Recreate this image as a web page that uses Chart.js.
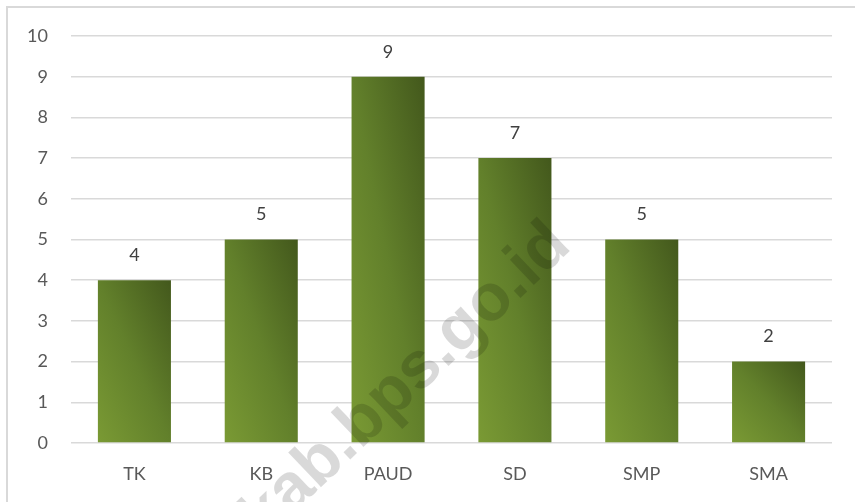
<!DOCTYPE html>
<html lang="id">
<head>
<meta charset="UTF-8">
<title>Chart</title>
<script src="https://cdn.jsdelivr.net/npm/chart.js@4.4.1/dist/chart.umd.min.js"></script>
<style>
  * { margin: 0; padding: 0; box-sizing: border-box; }
  html, body { width: 855px; height: 502px; background: #fff; overflow: hidden; }
  #wrap { position: relative; width: 855px; height: 502px; }
</style>
</head>
<body>
<div id="wrap"><canvas id="chart"></canvas></div>
<script>
const categories = ['TK', 'KB', 'PAUD', 'SD', 'SMP', 'SMA'];
const values = [4, 5, 9, 7, 5, 2];
const yMin = 0, yMax = 10, yStep = 1;
const watermark = 'kab.bps.go.id';

const FONT = 'Lato, "Open Sans", sans-serif';
const BAR_PCT = 0.576;

// diagonal gradient per bar, scaled with the bar shape (like Excel)
function barGradient(c) {
  const chart = c.chart;
  const xs = chart.scales.x, ys = chart.scales.y;
  if (!chart.chartArea || !xs || !ys || c.type !== 'data') return '#62802b';
  const x = xs.getPixelForValue(c.dataIndex);
  const w = (xs.width / categories.length) * BAR_PCT;
  const B = ys.getPixelForValue(0);
  const T = ys.getPixelForValue(values[c.dataIndex]);
  const h = Math.max(1, B - T);
  const L = x - w / 2;
  const a = 1 / (2 * w), b = 1 / (2 * h);
  const d = a * a + b * b;
  const g = chart.ctx.createLinearGradient(L, B, L + a / d, B - b / d);
  g.addColorStop(0, '#7a9a34');
  g.addColorStop(0.5, '#62802b');
  g.addColorStop(1, '#43581c');
  return g;
}

const valueLabels = {
  id: 'valueLabels',
  afterDatasetsDraw(chart) {
    const ctx = chart.ctx;
    ctx.save();
    ctx.font = '18px ' + FONT;
    ctx.fillStyle = '#404040';
    ctx.textAlign = 'center';
    ctx.textBaseline = 'middle';
    chart.getDatasetMeta(0).data.forEach((bar, i) => {
      ctx.fillText(String(values[i]), bar.x, bar.y - 25);
    });
    ctx.restore();
  }
};

const frameAndMark = {
  id: 'frameAndMark',
  beforeDraw(chart) {
    const ctx = chart.ctx;
    ctx.save();
    ctx.strokeStyle = '#d9d9d9';
    ctx.lineWidth = 2;
    ctx.beginPath();
    ctx.moveTo(7, 510);
    ctx.lineTo(7, 7);
    ctx.lineTo(860, 7);
    ctx.stroke();
    ctx.restore();
  },
  afterDraw(chart) {
    const ctx = chart.ctx;
    ctx.save();
    ctx.translate(573, 248);
    ctx.rotate(-43.5 * Math.PI / 180);
    ctx.font = 'bold 66px "Liberation Sans", Arial, sans-serif';
    ctx.fillStyle = 'rgba(0,0,0,0.15)';
    ctx.textAlign = 'right';
    ctx.textBaseline = 'alphabetic';
    ctx.fillText(watermark, 0, 0);
    ctx.restore();
  }
};

new Chart(document.getElementById('chart'), {
  type: 'bar',
  data: {
    labels: categories,
    datasets: [{
      data: values,
      backgroundColor: barGradient,
      borderWidth: 0,
      categoryPercentage: 1,
      barPercentage: BAR_PCT
    }]
  },
  options: {
    responsive: true,
    maintainAspectRatio: false,
    animation: false,
    layout: { padding: { top: 36, right: 23, left: 0, bottom: 0 } },
    plugins: { legend: { display: false }, tooltip: { enabled: false } },
    scales: {
      x: {
        grid: { display: false, drawTicks: false },
        border: { display: false },
        ticks: { color: '#595959', font: { family: FONT, size: 18 }, padding: 20 },
        afterFit(s) { s.height = 59; }
      },
      y: {
        min: yMin, max: yMax,
        grid: { color: '#d9d9d9', lineWidth: 1.5, drawTicks: false },
        border: { display: false },
        ticks: { stepSize: yStep, color: '#595959', font: { family: FONT, size: 18 }, padding: 23 },
        afterFit(s) { s.width = 71; }
      }
    }
  },
  plugins: [valueLabels, frameAndMark]
});
</script>
</body>
</html>
